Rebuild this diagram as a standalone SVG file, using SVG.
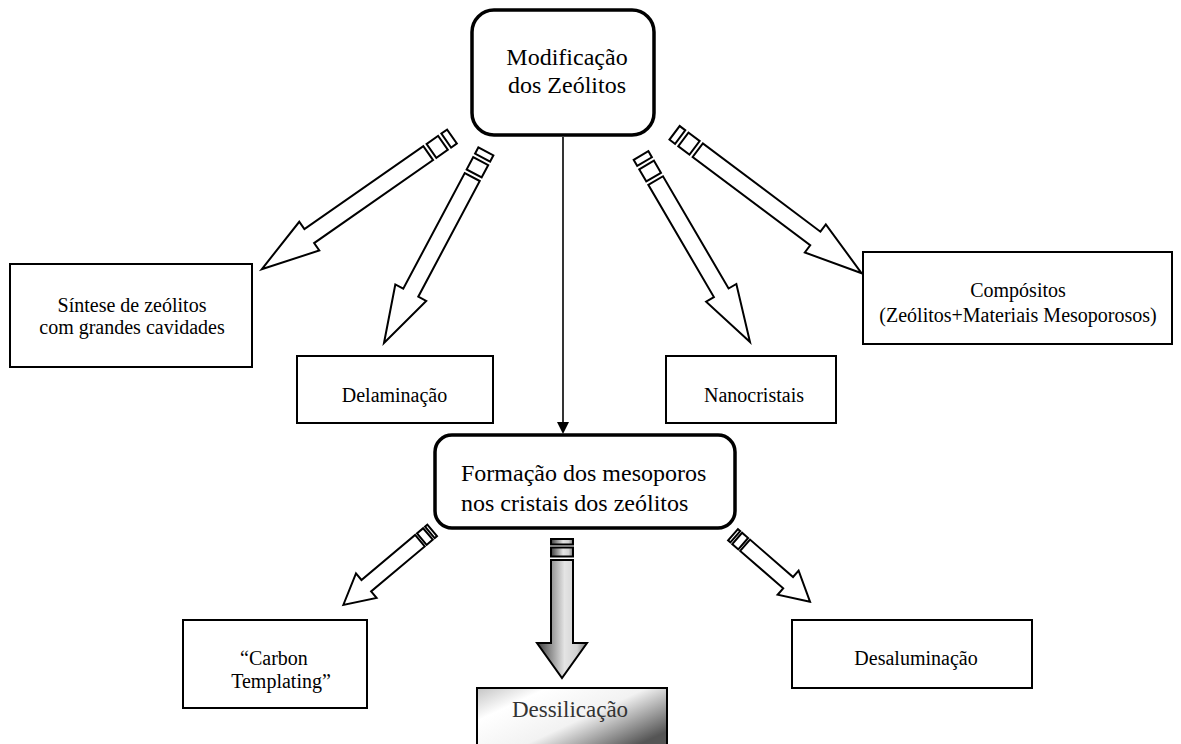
<svg xmlns="http://www.w3.org/2000/svg" width="1181" height="744" viewBox="0 0 1181 744">
<style>
  .box{fill:#fff;stroke:#000;stroke-width:2}
  .rbox{fill:#fff;stroke:#000;stroke-width:3.5}
  .ba{fill:#fff;stroke:#000;stroke-width:2;stroke-linejoin:miter}
  .ga{fill:url(#gArrow);stroke:#000;stroke-width:2}
  .ln{stroke:#000;stroke-width:1.6;fill:none}
  text{font-family:"Liberation Serif","Times New Roman",serif;fill:#000}
  .t20{font-size:20px}
  .t24{font-size:24px}
</style>
<defs>
  <marker id="ah" markerWidth="12" markerHeight="12" refX="6" refY="12" orient="auto" markerUnits="userSpaceOnUse" viewBox="0 0 12 12">
    <path d="M0,0 L12,0 L6,12 Z" fill="#000" transform="rotate(-90 6 6)"/>
  </marker>
  <linearGradient id="gArrow" x1="0" y1="0" x2="1" y2="0">
    <stop offset="0" stop-color="#3c3c3c"/>
    <stop offset="0.55" stop-color="#e4e4e4"/>
    <stop offset="0.8" stop-color="#d2d2d2"/>
    <stop offset="1" stop-color="#7a7a7a"/>
  </linearGradient>
  <linearGradient id="gBox" x1="0" y1="0" x2="1" y2="0.7">
    <stop offset="0" stop-color="#c4c4c4"/>
    <stop offset="0.25" stop-color="#ffffff"/>
    <stop offset="0.6" stop-color="#f2f2f2"/>
    <stop offset="1" stop-color="#555555"/>
  </linearGradient>
</defs>
<rect width="1181" height="744" fill="#fff"/>

<g id="connectors">
  <line class="ln" x1="563" y1="137" x2="563" y2="423"/>
  <path d="M557,422 L569,422 L563,434 Z" fill="#000"/>

  <g id="arrow-sintese" transform="translate(261.7,269.3) rotate(-34.9)">
    <path class="ba" d="M0,0 L58,-17.5 L58,-8.5 L203,-8.5 L203,8.5 L58,8.5 L58,17.5 Z"/>
    <rect class="ba" x="207" y="-8.5" width="14" height="17"/>
    <rect class="ba" x="225" y="-8.5" width="7" height="17"/>
  </g>
  <g id="arrow-delaminacao" transform="translate(384,343) rotate(-62)">
    <path class="ba" d="M0,0 L57,-17.5 L57,-8.5 L188,-8.5 L188,8.5 L57,8.5 L57,17.5 Z"/>
    <rect class="ba" x="192" y="-8.5" width="14" height="17"/>
    <rect class="ba" x="210" y="-8.5" width="7" height="17"/>
  </g>
  <g id="arrow-nanocristais" transform="translate(750,342) rotate(-120.3)">
    <path class="ba" d="M0,0 L57,-17.5 L57,-8.5 L187,-8.5 L187,8.5 L57,8.5 L57,17.5 Z"/>
    <rect class="ba" x="191" y="-8.5" width="14" height="17"/>
    <rect class="ba" x="209" y="-8.5" width="7" height="17"/>
  </g>
  <g id="arrow-compositos" transform="translate(861.7,273.3) rotate(-143.1)">
    <path class="ba" d="M0,0 L58,-17.5 L58,-8.5 L205,-8.5 L205,8.5 L58,8.5 L58,17.5 Z"/>
    <rect class="ba" x="209" y="-8.5" width="14" height="17"/>
    <rect class="ba" x="227" y="-8.5" width="7" height="17"/>
  </g>

  <g id="arrow-carbon" transform="translate(343.3,605) rotate(-40)">
    <path class="ba" d="M0,0 L30,-16 L30,-7.5 L100,-7.5 L100,7.5 L30,7.5 L30,16 Z"/>
    <rect class="ba" x="102.5" y="-7.5" width="8" height="15"/>
    <rect class="ba" x="113" y="-7.5" width="3" height="15"/>
  </g>
  <g id="arrow-desaluminacao" transform="translate(810,601.7) rotate(-139)">
    <path class="ba" d="M0,0 L29,-16 L29,-7.5 L86,-7.5 L86,7.5 L29,7.5 L29,16 Z"/>
    <rect class="ba" x="88.5" y="-7.5" width="8" height="15"/>
    <rect class="ba" x="99" y="-7.5" width="3" height="15"/>
  </g>
  <g id="arrow-dessilicacao">
    <path class="ga" d="M551,560 L573,560 L573,643 L587,643 L562,678 L537,643 L551,643 Z"/>
    <rect class="ga" x="551" y="547.5" width="22" height="9"/>
    <rect class="ga" x="551" y="539" width="22" height="5.5"/>
  </g>
</g>

<g id="node-modificacao">
  <rect class="rbox" x="472" y="10" width="182" height="125" rx="22" ry="22"/>
  <text class="t24" x="567" y="65" text-anchor="middle">Modificação</text>
  <text class="t24" x="567" y="93" text-anchor="middle">dos Zeólitos</text>
</g>

<g id="node-sintese">
  <rect class="box" x="10" y="264" width="242" height="103"/>
  <text class="t20" x="132" y="312" text-anchor="middle">Síntese  de zeólitos</text>
  <text class="t20" x="132" y="334" text-anchor="middle">com grandes cavidades</text>
</g>

<g id="node-delaminacao">
  <rect class="box" x="297" y="356" width="196" height="67"/>
  <text class="t20" x="394.5" y="402" text-anchor="middle">Delaminação</text>
</g>

<g id="node-nanocristais">
  <rect class="box" x="666" y="356" width="170" height="67"/>
  <text class="t20" x="754" y="402" text-anchor="middle">Nanocristais</text>
</g>

<g id="node-compositos">
  <rect class="box" x="863" y="252" width="309" height="92"/>
  <text class="t20" x="1018" y="297" text-anchor="middle">Compósitos</text>
  <text class="t20" x="1018" y="322" text-anchor="middle">(Zeólitos+Materiais Mesoporosos)</text>
</g>

<g id="node-formacao">
  <rect class="rbox" x="435" y="435" width="300" height="93" rx="17" ry="17"/>
  <text class="t24" x="461" y="481">Formação dos mesoporos</text>
  <text class="t24" x="461" y="511">nos cristais dos zeólitos</text>
</g>

<g id="node-carbon">
  <rect class="box" x="183" y="620" width="184" height="88"/>
  <text class="t20" x="274" y="665" text-anchor="middle">“Carbon</text>
  <text class="t20" x="281" y="688" text-anchor="middle">Templating”</text>
</g>

<g id="node-dessilicacao">
  <rect x="477" y="688" width="190" height="62" fill="url(#gBox)" stroke="#000" stroke-width="2"/>
  <text x="570" y="717" text-anchor="middle" style="font-size:23px;fill:#333">Dessilicação</text>
</g>

<g id="node-desaluminacao">
  <rect class="box" x="792" y="620" width="240" height="68"/>
  <text class="t20" x="916" y="665" text-anchor="middle">Desaluminação</text>
</g>
</svg>
